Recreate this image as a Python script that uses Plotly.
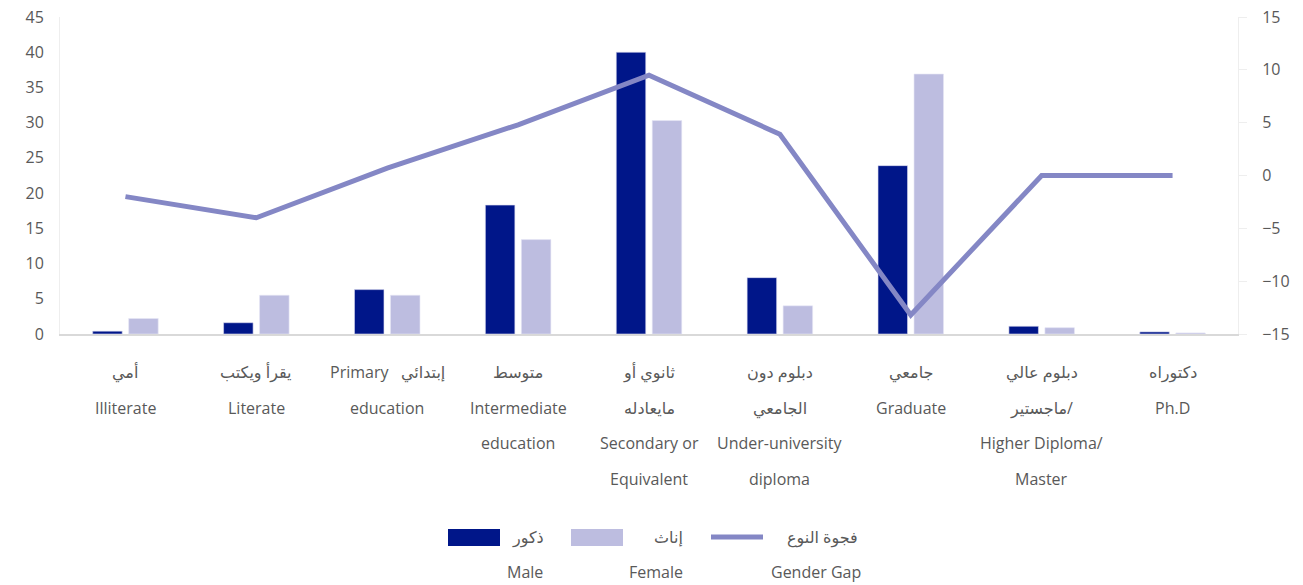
import plotly.graph_objects as go

# Education level categories (Arabic line(s) + English line(s))
categories = ["Illiterate", "Literate", "Primary", "Intermediate", "Secondary",
              "Under-university", "Graduate", "Higher Diploma", "Ph.D"]
label_lines = [
    ["أمي", "Illiterate"],
    ["يقرأ ويكتب", "Literate"],
    ["Primary   إبتدائي", "education"],
    ["متوسط", "Intermediate", "education"],
    ["ثانوي أو", "مايعادله", "Secondary or", "Equivalent"],
    ["دبلوم دون", "الجامعي", "Under-university", "diploma"],
    ["جامعي", "Graduate"],
    ["دبلوم عالي", "ماجستير/", "Higher Diploma/", "Master"],
    ["دكتوراه", "Ph.D"],
]

# Percentages by gender
male = [0.4, 1.6, 6.3, 18.3, 40.0, 8.0, 23.9, 1.1, 0.3]
female = [2.2, 5.5, 5.5, 13.4, 30.3, 4.0, 36.9, 0.9, 0.15]
# Gender gap (right axis)
gap = [-2.0, -4.0, 0.7, 4.8, 9.5, 3.9, -13.2, 0.0, 0.0]

left_ticks = list(range(0, 50, 5))
right_ticks = list(range(-15, 20, 5))

MALE_C = "#001689"
FEMALE_C = "#BDBDE0"
GAP_C = "#8487C5"
TEXT_C = "#595959"
FONT = "Open Sans, DejaVu Sans, sans-serif"

W, H = 1303, 585
L, R, T, B = 60, 65, 17, 251
plot_h = H - T - B
plot_w = W - L - R


def py(px):
    return (H - B - px) / plot_h


def pxx(px):
    return (px - L) / plot_w


fig = go.Figure()
fig.add_trace(go.Bar(x=categories, y=male, name="Male", marker_color=MALE_C,
                     marker_line=dict(color="rgba(220,220,240,0.6)", width=1)))
fig.add_trace(go.Bar(x=categories, y=female, name="Female", marker_color=FEMALE_C,
                     marker_line=dict(color="rgba(230,230,245,0.6)", width=1)))
fig.add_trace(go.Scatter(x=categories, y=gap, name="Gender Gap", mode="lines",
                         line=dict(color=GAP_C, width=5), yaxis="y2"))

annotations = []
line_y = [372, 408, 443, 479]
for cat, lines in zip(categories, label_lines):
    for i, txt in enumerate(lines):
        annotations.append(dict(x=cat, xref="x", y=py(line_y[i]), yref="paper",
                                text=txt, showarrow=False, yanchor="middle",
                                xanchor="center",
                                font=dict(size=16, color=TEXT_C, family=FONT)))

# Custom two-line legend
shapes = [
    dict(type="rect", xref="paper", yref="paper", x0=pxx(448), x1=pxx(500),
         y0=py(546), y1=py(529), fillcolor=MALE_C, line=dict(width=0)),
    dict(type="rect", xref="paper", yref="paper", x0=pxx(571), x1=pxx(623),
         y0=py(546), y1=py(529), fillcolor=FEMALE_C, line=dict(width=0)),
    dict(type="line", xref="paper", yref="paper", x0=pxx(711), x1=pxx(763),
         y0=py(537), y1=py(537), line=dict(color=GAP_C, width=5)),
]
legend_items = [("ذكور", 528, "Male", 525), ("إناث", 668, "Female", 656),
                ("فجوة النوع", 822, "Gender Gap", 816)]
for ar, xa, en, xe in legend_items:
    annotations.append(dict(x=pxx(xa), xref="paper", y=py(537), yref="paper", text=ar,
                            showarrow=False, xanchor="center", yanchor="middle",
                            font=dict(size=16, color=TEXT_C, family=FONT)))
    annotations.append(dict(x=pxx(xe), xref="paper", y=py(572), yref="paper", text=en,
                            showarrow=False, xanchor="center", yanchor="middle",
                            font=dict(size=16, color=TEXT_C, family=FONT)))

fig.update_layout(
    width=W, height=H,
    margin=dict(l=L, r=R, t=T, b=B, autoexpand=False),
    paper_bgcolor="white", plot_bgcolor="white",
    barmode="group", bargap=0.45, bargroupgap=0.18,
    showlegend=False,
    font=dict(family=FONT, size=16, color=TEXT_C),
    xaxis=dict(showticklabels=False, showgrid=False, zeroline=False,
               showline=True, linecolor="#d9d9d9", linewidth=2, ticks=""),
    yaxis=dict(range=[0, 45], tickvals=left_ticks, showgrid=False, zeroline=False,
               showline=True, linecolor="#eeeeee", linewidth=1, ticks="",
               ticklabelstandoff=12, tickfont=dict(size=16, color=TEXT_C)),
    yaxis2=dict(range=[-15, 15], tickvals=right_ticks, overlaying="y", side="right",
                showgrid=False, zeroline=False, showline=True, linecolor="#eeeeee",
                linewidth=1, ticks="outside", tickcolor="#eeeeee", ticklen=8,
                ticklabelstandoff=12, tickfont=dict(size=16, color=TEXT_C)),
    annotations=annotations,
    shapes=shapes,
)

fig.write_html("out.html")
